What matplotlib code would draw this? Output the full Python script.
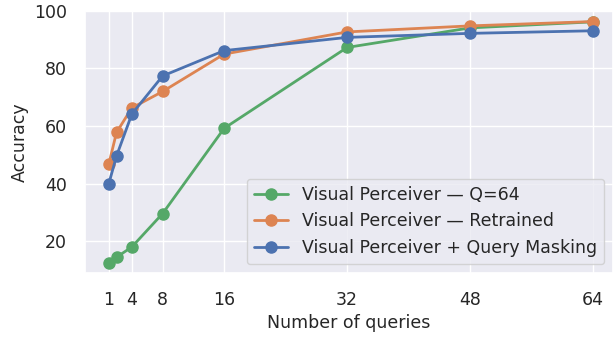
import matplotlib
matplotlib.use("Agg")
import matplotlib.pyplot as plt
import seaborn as sns

queries = [1, 2, 4, 8, 16, 32, 48, 64]
acc_q64 = [12.3, 14.4, 18.0, 29.6, 59.2, 87.3, 94.1, 96.2]
acc_retrained = [46.8, 57.8, 66.3, 72.0, 85.0, 92.7, 94.8, 96.3]
acc_masking = [40.0, 49.6, 64.2, 77.4, 86.2, 90.8, 92.2, 93.1]
xticks = [1, 4, 8, 16, 32, 48, 64]

sns.set_theme(style="darkgrid")
pal = sns.color_palette("deep")

fig = plt.figure(figsize=(6.13, 3.41), dpi=100)
ax = fig.add_axes([0.1387, 0.2, 0.8613, 0.768])

ax.plot(queries, acc_q64, marker="o", ms=8, lw=2, c=pal[2], label="Visual Perceiver — Q=64")
ax.plot(queries, acc_retrained, marker="o", ms=8, lw=2, c=pal[1], label="Visual Perceiver — Retrained")
ax.plot(queries, acc_masking, marker="o", ms=8, lw=2, c=pal[0], label="Visual Perceiver + Query Masking")

ax.set_xticks(xticks)
ax.set_xlim(-2.1, 66.6)
ax.set_ylim(9, 100)
ax.tick_params(labelsize=12.5, pad=7)
ax.set_xlabel("Number of queries", fontsize=12.5)
ax.set_ylabel("Accuracy", fontsize=12.5)
ax.legend(loc="lower right", fontsize=12.5)

fig.savefig("out.png", dpi=100)
